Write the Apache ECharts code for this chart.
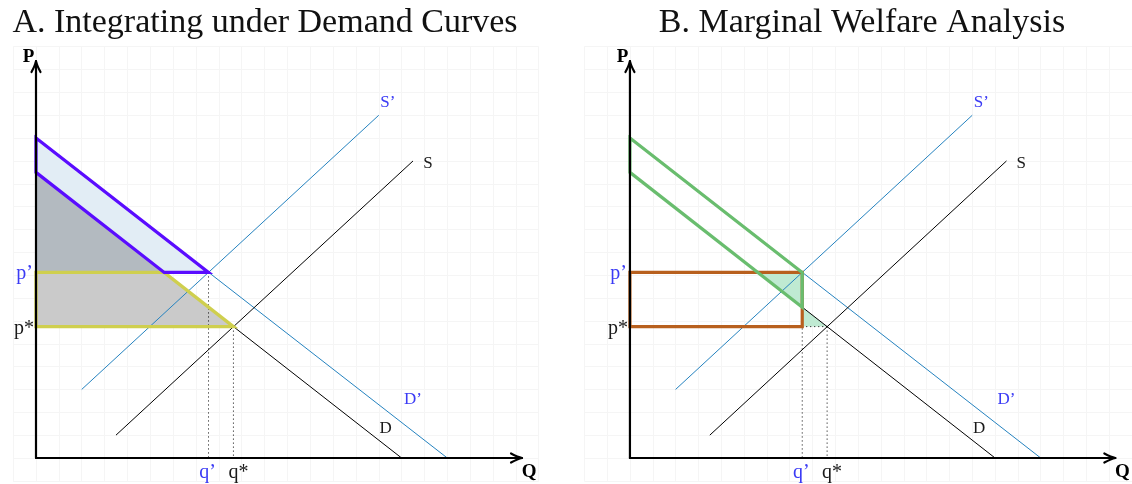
<!DOCTYPE html>
<html>
<head>
<meta charset="utf-8">
<script src="https://cdn.jsdelivr.net/npm/echarts@6/dist/echarts.min.js"></script>
<style>
  html, body { margin: 0; padding: 0; background: #ffffff; }
  #chart { width: 1132px; height: 484px; }
</style>
</head>
<body>
<div id="chart"></div>
<script>
// Curves, as endpoints in (quantity, price) grid units
const demandD  = [[0, 12.5], [16, 0]];
const demandD2 = [[0, 14], [18, 0]];
const supplyS  = [[3.5, 1], [16.5, 13]];
const supplyS2 = [[2, 3], [15, 15]];

// Equilibrium points
const qStar = 8.64, pStar = 5.75;      // D meets S
const qPrime = 7.55, pPrime = 8.12;    // D' meets S'
const qDemandAtPPrime = 5.61;          // quantity on D at p'
const pDemandAtQPrime = 6.6;           // price on D at q'

// Axis arrow tips
const qAxisEnd = 21.27, pAxisEnd = 17.37;

// Shaded regions, panel A
const shiftBand   = [[0, 14], [qPrime, pPrime], [qDemandAtPPrime, pPrime], [0, 12.5]];
const underDAbove = [[0, 12.5], [qDemandAtPPrime, pPrime], [0, pPrime]];
const priceBand   = [[0, pPrime], [qDemandAtPPrime, pPrime], [qStar, pStar], [0, pStar]];
// Shaded regions, panel B
const welfareBand = [[0, 14], [qPrime, pPrime], [qPrime, pDemandAtQPrime], [0, 12.5]];
const upperWedge  = [[qDemandAtPPrime, pPrime], [qPrime, pPrime], [qPrime, pDemandAtQPrime]];
const lowerWedge  = [[qPrime, pDemandAtQPrime], [qPrime, pStar], [qStar, pStar]];
const priceRect   = [[0, pPrime], [qPrime, pPrime], [qPrime, pStar], [0, pStar]];

const panelTitles = ['A. Integrating under Demand Curves', 'B. Marginal Welfare Analysis'];

// ---- layout and style ----
const CELL = 22.85;              // pixels per grid unit
const ORIGIN_X = [36, 630];
const ORIGIN_Y = 458;
const GRID_MIN_X = [-1, -2];     // background grid reaches this far left of the price axis
const SERIF = '"Liberation Serif", "DejaVu Serif", serif';
const BLUE_LINE = '#2583c0';
const BLUE_TEXT = '#3b3bf5';
const INK = '#1a1a1a';

// label anchors (grid units) for curve names
const curveLabels = [
  { text: 'S\u2019', at: [15.4, 15.55], color: BLUE_TEXT },
  { text: 'S',       at: [17.15, 12.9], color: INK },
  { text: 'D\u2019', at: [16.5, 2.55],  color: BLUE_TEXT },
  { text: 'D',       at: [15.3, 1.27],  color: INK }
];

const chart = echarts.init(document.getElementById('chart'), null, { renderer: 'canvas' });

const grids = [], xAxes = [], yAxes = [], series = [];

function polygon(panel, pts, style, z) {
  series.push({
    type: 'custom', xAxisIndex: panel, yAxisIndex: panel, z, silent: true, clip: false,
    animation: false, data: [pts[0]], encode: { x: 0, y: 1 },
    renderItem: (params, api) => ({
      type: 'polygon',
      shape: { points: pts.map(p => api.coord(p)) },
      style
    })
  });
}

function curve(panel, pts, color, width, dash, z) {
  series.push({
    type: 'line', xAxisIndex: panel, yAxisIndex: panel, z, silent: true, animation: false,
    data: pts, symbol: 'none', clip: false,
    lineStyle: { color, width, type: dash || 'solid', cap: 'butt' }
  });
}

function axesArrows(panel) {
  series.push({
    type: 'custom', xAxisIndex: panel, yAxisIndex: panel, z: 8, silent: true, clip: false,
    animation: false, data: [[0, 0]], encode: { x: 0, y: 1 },
    renderItem: (params, api) => {
      const o = api.coord([0, 0]);
      const xe = api.coord([qAxisEnd, 0]);
      const ye = api.coord([0, pAxisEnd]);
      const st = { stroke: '#000', lineWidth: 2.2, fill: 'none', lineCap: 'round' };
      const L = 11, W = 4.5;
      return {
        type: 'group',
        children: [
          { type: 'polyline', shape: { points: [[o[0], o[1]], [xe[0] - 1, xe[1]]] }, style: st },
          { type: 'polyline', shape: { points: [[o[0], o[1]], [ye[0], ye[1] + 1]] }, style: st },
          { type: 'bezierCurve', shape: { x1: xe[0] - L, y1: xe[1] - W, cpx1: xe[0] - 4, cpy1: xe[1] - 0.8, x2: xe[0], y2: xe[1] }, style: st },
          { type: 'bezierCurve', shape: { x1: xe[0] - L, y1: xe[1] + W, cpx1: xe[0] - 4, cpy1: xe[1] + 0.8, x2: xe[0], y2: xe[1] }, style: st },
          { type: 'bezierCurve', shape: { x1: ye[0] - W, y1: ye[1] + L, cpx1: ye[0] - 0.8, cpy1: ye[1] + 4, x2: ye[0], y2: ye[1] }, style: st },
          { type: 'bezierCurve', shape: { x1: ye[0] + W, y1: ye[1] + L, cpx1: ye[0] + 0.8, cpy1: ye[1] + 4, x2: ye[0], y2: ye[1] }, style: st }
        ]
      };
    }
  });
}

function texts(panel, items) {
  series.push({
    type: 'custom', xAxisIndex: panel, yAxisIndex: panel, z: 9, silent: true, clip: false,
    animation: false, data: items.map(it => it.at), encode: { x: 0, y: 1 },
    renderItem: (params, api) => {
      const it = items[params.dataIndex];
      const c = api.coord(it.at);
      const d = it.offset || [0, 0];
      return {
        type: 'text', x: c[0] + d[0], y: c[1] + d[1],
        style: {
          text: it.text, fill: it.color, font: it.font || ('17px ' + SERIF),
          align: it.align || 'center', verticalAlign: 'middle'
        }
      };
    }
  });
}

for (let i = 0; i < 2; i++) {
  grids.push({
    left: ORIGIN_X[i] + GRID_MIN_X[i] * CELL, top: ORIGIN_Y - 18 * CELL,
    width: (22 - GRID_MIN_X[i]) * CELL, height: 19 * CELL, containLabel: false
  });
  const ax = {
    gridIndex: i, type: 'value', interval: 1,
    axisLine: { show: false }, axisTick: { show: false }, axisLabel: { show: false },
    splitLine: { show: true, lineStyle: { color: '#f5f5f5', width: 1 } }
  };
  xAxes.push(Object.assign({ min: GRID_MIN_X[i], max: 22 }, ax));
  yAxes.push(Object.assign({ min: -1, max: 18 }, ax));
}

// ---- Panel A: integrating under demand curves ----
polygon(0, shiftBand,   { fill: '#e2edf5' }, 1);
polygon(0, underDAbove, { fill: '#b3bac0' }, 1);
polygon(0, priceBand,   { fill: '#cacaca' }, 1);

// ---- Panel B: marginal welfare analysis ----
polygon(1, upperWedge, { fill: '#bfead2' }, 1);
polygon(1, lowerWedge, { fill: '#bfead2' }, 1);

// supply and demand curves, both panels
for (let i = 0; i < 2; i++) {
  curve(i, supplyS2, BLUE_LINE, 1, null, 3);
  curve(i, demandD2, BLUE_LINE, 1, null, 3);
  curve(i, supplyS,  '#000000', 1, null, 3);
  curve(i, demandD,  '#000000', 1, null, 3);
  // dotted drop lines to the quantity axis
  curve(i, [[qPrime, pPrime], [qPrime, 0]], '#000000', 1, [1, 3], 4);
  curve(i, [[qStar, pStar], [qStar, 0]], '#000000', 1, [1, 3], 4);
}
curve(1, [[qPrime, pStar], [qStar, pStar]], '#000000', 1, [1, 3], 4);

// outlines
polygon(0, priceBand,   { fill: 'none', stroke: '#cfcf4e', lineWidth: 3.3, lineJoin: 'miter' }, 5);
polygon(0, shiftBand,   { fill: 'none', stroke: '#5a0cff', lineWidth: 3.2, lineJoin: 'miter' }, 6);
polygon(1, priceRect,   { fill: 'none', stroke: '#b8601e', lineWidth: 3.2, lineJoin: 'miter' }, 5);
polygon(1, welfareBand, { fill: 'none', stroke: '#69bd6e', lineWidth: 3.2, lineJoin: 'miter' }, 6);

for (let i = 0; i < 2; i++) {
  axesArrows(i);
  const bold = 'bold 19px ' + SERIF;
  const tick = '20px ' + SERIF;
  texts(i, curveLabels.concat([
    { text: 'P', at: [0, pAxisEnd], offset: [-7.5, -4], color: '#000', font: bold },
    { text: 'Q', at: [qAxisEnd, 0], offset: [7, 14], color: '#000', font: bold },
    { text: 'p\u2019', at: [0, pPrime], offset: [-3, 1], color: BLUE_TEXT, font: tick, align: 'right' },
    { text: 'p*', at: [0, pStar], offset: [-2, 2], color: INK, font: tick, align: 'right' },
    { text: 'q\u2019', at: [qPrime, 0], offset: [-1, 15], color: BLUE_TEXT, font: tick },
    { text: 'q*', at: [qStar, 0], offset: [5, 15], color: INK, font: tick }
  ]));
}

chart.setOption({
  animation: false,
  backgroundColor: '#ffffff',
  title: panelTitles.map((t, i) => ({
    text: t, left: [260, 857][i], top: 1, textAlign: 'center',
    textStyle: { fontFamily: SERIF, fontSize: 34, fontWeight: 'normal', color: '#111' }
  })),
  grid: grids,
  xAxis: xAxes,
  yAxis: yAxes,
  series
});
</script>
</body>
</html>
